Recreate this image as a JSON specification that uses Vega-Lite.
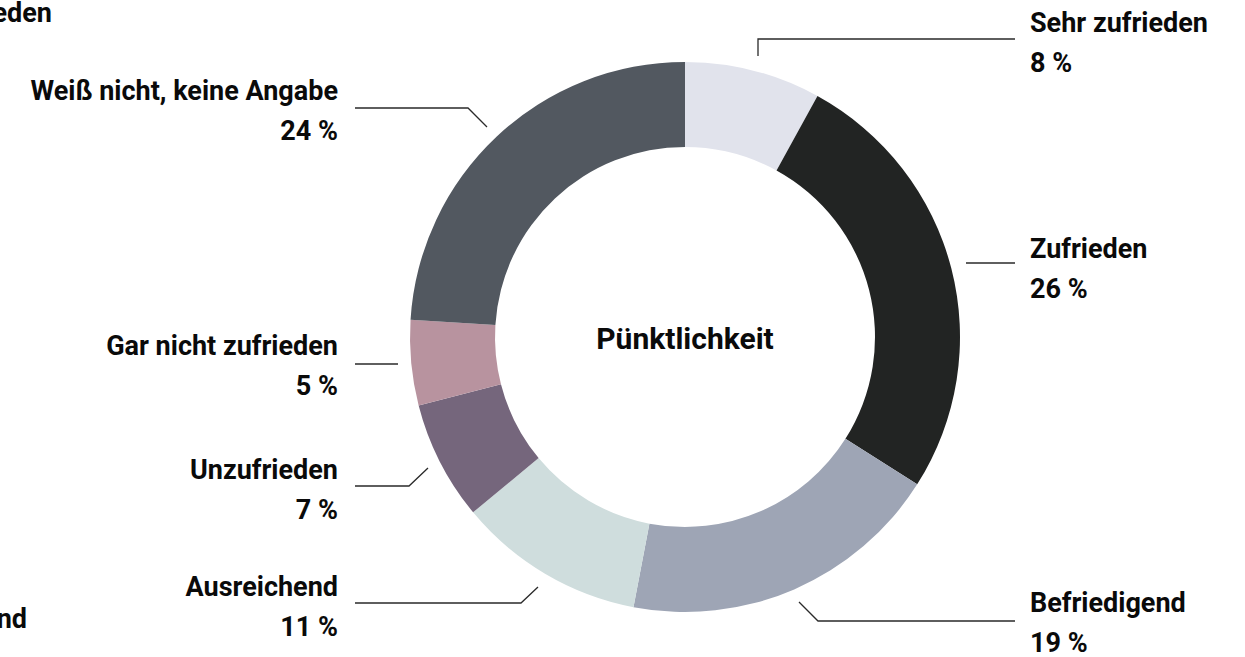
{
  "$schema": "https://vega.github.io/schema/vega-lite/v6.json",
  "width": 1245,
  "height": 657,
  "autosize": {"type": "none"},
  "padding": 0,
  "background": "#ffffff",
  "config": {"view": {"stroke": null}},
  "datasets": {
    "slices": [
      {"cat": "Sehr zufrieden", "value": 8, "order": 1},
      {"cat": "Zufrieden", "value": 26, "order": 2},
      {"cat": "Befriedigend", "value": 19, "order": 3},
      {"cat": "Ausreichend", "value": 11, "order": 4},
      {"cat": "Unzufrieden", "value": 7, "order": 5},
      {"cat": "Gar nicht zufrieden", "value": 5, "order": 6},
      {"cat": "Weiß nicht, keine Angabe", "value": 24, "order": 7}
    ],
    "labels": [
      {"label": "Sehr zufrieden\n8 %", "x": 1030, "y": 32, "side": "right"},
      {"label": "Zufrieden\n26 %", "x": 1030, "y": 258, "side": "right"},
      {"label": "Befriedigend\n19 %", "x": 1030, "y": 612, "side": "right"},
      {"label": "Weiß nicht, keine Angabe\n24 %", "x": 338, "y": 100, "side": "left"},
      {"label": "Gar nicht zufrieden\n5 %", "x": 338, "y": 355, "side": "left"},
      {"label": "Unzufrieden\n7 %", "x": 338, "y": 479, "side": "left"},
      {"label": "Ausreichend\n11 %", "x": 338, "y": 596, "side": "left"},
      {"label": "Sehr zufrieden", "x": 52, "y": 22, "side": "left"},
      {"label": "Befriedigend", "x": 27, "y": 628, "side": "left"}
    ],
    "leaders": [
      {"g": "Sehr zufrieden", "o": 1, "x": 758, "y": 56},
      {"g": "Sehr zufrieden", "o": 2, "x": 758, "y": 39},
      {"g": "Sehr zufrieden", "o": 3, "x": 1015, "y": 39},
      {"g": "Zufrieden", "o": 1, "x": 966, "y": 263},
      {"g": "Zufrieden", "o": 2, "x": 1015, "y": 263},
      {"g": "Befriedigend", "o": 1, "x": 799, "y": 602},
      {"g": "Befriedigend", "o": 2, "x": 818, "y": 621},
      {"g": "Befriedigend", "o": 3, "x": 1015, "y": 621},
      {"g": "Ausreichend", "o": 1, "x": 538, "y": 587},
      {"g": "Ausreichend", "o": 2, "x": 521, "y": 603},
      {"g": "Ausreichend", "o": 3, "x": 355, "y": 603},
      {"g": "Unzufrieden", "o": 1, "x": 428, "y": 468},
      {"g": "Unzufrieden", "o": 2, "x": 409, "y": 486},
      {"g": "Unzufrieden", "o": 3, "x": 355, "y": 486},
      {"g": "Gar nicht zufrieden", "o": 1, "x": 398, "y": 364},
      {"g": "Gar nicht zufrieden", "o": 2, "x": 355, "y": 364},
      {"g": "Weiß nicht", "o": 1, "x": 487, "y": 127},
      {"g": "Weiß nicht", "o": 2, "x": 468, "y": 108},
      {"g": "Weiß nicht", "o": 3, "x": 355, "y": 108}
    ],
    "center": [
      {"title": "Pünktlichkeit", "x": 685, "y": 349}
    ]
  },
  "layer": [
    {
      "data": {"name": "slices"},
      "mark": {"type": "arc", "outerRadius": 275, "innerRadius": 190},
      "encoding": {
        "x": {"datum": 685, "type": "quantitative", "scale": {"domain": [0, 1245], "nice": false, "zero": false}, "axis": null},
        "y": {"datum": 337, "type": "quantitative", "scale": {"domain": [0, 657], "nice": false, "zero": false, "reverse": true}, "axis": null},
        "theta": {"field": "value", "type": "quantitative", "stack": true},
        "order": {"field": "order", "type": "quantitative", "sort": "ascending"},
        "color": {
          "field": "cat",
          "type": "nominal",
          "legend": null,
          "scale": {
            "domain": ["Sehr zufrieden", "Zufrieden", "Befriedigend", "Ausreichend", "Unzufrieden", "Gar nicht zufrieden", "Weiß nicht, keine Angabe"],
            "range": ["#e1e3ec", "#222423", "#9ea5b5", "#cfdddd", "#75667c", "#b8939f", "#525860"]
          }
        }
      }
    },
    {
      "data": {"name": "leaders"},
      "mark": {"type": "line", "color": "#2a2a2a", "strokeWidth": 1.3, "strokeJoin": "miter"},
      "encoding": {
        "x": {"field": "x", "type": "quantitative", "axis": null},
        "y": {"field": "y", "type": "quantitative", "axis": null},
        "detail": {"field": "g", "type": "nominal"},
        "order": {"field": "o", "type": "quantitative"}
      }
    },
    {
      "data": {"name": "labels"},
      "transform": [{"filter": "datum.side === 'right'"}],
      "mark": {"type": "text", "align": "left", "baseline": "alphabetic", "lineBreak": "\n", "lineHeight": 40, "font": "Roboto", "fontWeight": "bold", "fontSize": 27, "color": "#0a0a0a"},
      "encoding": {
        "x": {"field": "x", "type": "quantitative", "axis": null},
        "y": {"field": "y", "type": "quantitative", "axis": null},
        "text": {"field": "label", "type": "nominal"}
      }
    },
    {
      "data": {"name": "labels"},
      "transform": [{"filter": "datum.side === 'left'"}],
      "mark": {"type": "text", "align": "right", "baseline": "alphabetic", "lineBreak": "\n", "lineHeight": 40, "font": "Roboto", "fontWeight": "bold", "fontSize": 27, "color": "#0a0a0a"},
      "encoding": {
        "x": {"field": "x", "type": "quantitative", "axis": null},
        "y": {"field": "y", "type": "quantitative", "axis": null},
        "text": {"field": "label", "type": "nominal"}
      }
    },
    {
      "data": {"name": "center"},
      "mark": {"type": "text", "align": "center", "baseline": "alphabetic", "font": "Roboto", "fontWeight": "bold", "fontSize": 30, "color": "#0a0a0a"},
      "encoding": {
        "x": {"field": "x", "type": "quantitative", "axis": null},
        "y": {"field": "y", "type": "quantitative", "axis": null},
        "text": {"field": "title", "type": "nominal"}
      }
    }
  ]
}
